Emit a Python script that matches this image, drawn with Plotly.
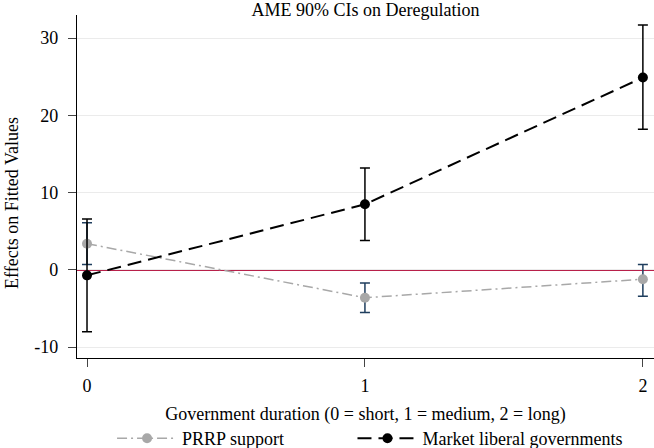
import plotly.graph_objects as go

duration = [0, 1, 2]
prrp_est = [3.4, -3.6, -1.2]
prrp_lo = [0.7, -5.5, -3.4]
prrp_hi = [6.1, -1.7, 0.7]
ml_est = [-0.7, 8.5, 24.9]
ml_lo = [-8.0, 3.8, 18.2]
ml_hi = [6.6, 13.2, 31.7]
y_ticks = [-10, 0, 10, 20, 30]
y_ticktext = ["-10", "0", "10", "20", "30"]

font = "Liberation Serif, Times New Roman, serif"

fig = go.Figure()
fig.add_trace(go.Scatter(
    x=duration, y=prrp_est, name="PRRP support", mode="lines+markers",
    line=dict(color="#a8a8a8", width=1.5, dash="10px,4px,2px,4px"),
    marker=dict(color="#a8a8a8", size=10),
    error_y=dict(type="data", symmetric=False,
                 array=[h - e for h, e in zip(prrp_hi, prrp_est)],
                 arrayminus=[e - l for e, l in zip(prrp_est, prrp_lo)],
                 color="#1f3e5e", thickness=1.5, width=5),
    legend="legend",
))
fig.add_trace(go.Scatter(
    x=duration, y=ml_est, name="Market liberal governments", mode="lines+markers",
    line=dict(color="black", width=2, dash="14px,7px"),
    marker=dict(color="black", size=10),
    error_y=dict(type="data", symmetric=False,
                 array=[h - e for h, e in zip(ml_hi, ml_est)],
                 arrayminus=[e - l for e, l in zip(ml_est, ml_lo)],
                 color="black", thickness=1.5, width=5),
    legend="legend2",
))

fig.add_hline(y=0, line=dict(color="#b8204a", width=2), layer="below")

fig.add_annotation(text="Effects on Fitted Values", textangle=-90,
                   xref="paper", yref="paper", x=-(77 - 12) / 576, y=(358 - 203) / 343,
                   xanchor="center", yanchor="middle", showarrow=False,
                   font=dict(size=18))

legend_common = dict(orientation="h", xanchor="left", yanchor="top",
                     y=(358 - 420) / 343, font=dict(size=18), itemwidth=60,
                     bgcolor="rgba(0,0,0,0)")

fig.update_layout(
    width=654, height=448,
    margin=dict(l=77, r=0, t=15, b=90, autoexpand=False),
    paper_bgcolor="white", plot_bgcolor="white",
    font=dict(family=font, size=18, color="black"),
    title=dict(text="AME 90% CIs on Deregulation", x=365.5 / 654, xanchor="center",
               y=1 - 10 / 448, yanchor="middle", font=dict(size=18)),
    xaxis=dict(range=[-0.036, 2.04], tickvals=duration, ticks="outside",
               ticklen=8, tickwidth=1.2, showgrid=False, zeroline=False,
               showline=True, linecolor="black", linewidth=1.2,
               ticklabelstandoff=3, automargin=False,
               title=dict(text="Government duration (0 = short, 1 = medium, 2 = long)",
                          font=dict(size=18), standoff=12)),
    yaxis=dict(range=[-11.4, 33], tickvals=y_ticks, ticktext=y_ticktext,
               ticks="outside", ticklen=8, tickwidth=1.2, showgrid=True,
               gridcolor="#ebebeb", gridwidth=1, zeroline=False, showline=True,
               linecolor="black", linewidth=1.2, ticklabelstandoff=6,
               automargin=False),
    legend=dict(x=(112 - 77) / 576, **legend_common),
    legend2=dict(x=(352 - 77) / 576, **legend_common),
    showlegend=True,
)

fig.write_html("out.html", config={"displayModeBar": False},
               post_script="document.body.style.margin='0px';")
